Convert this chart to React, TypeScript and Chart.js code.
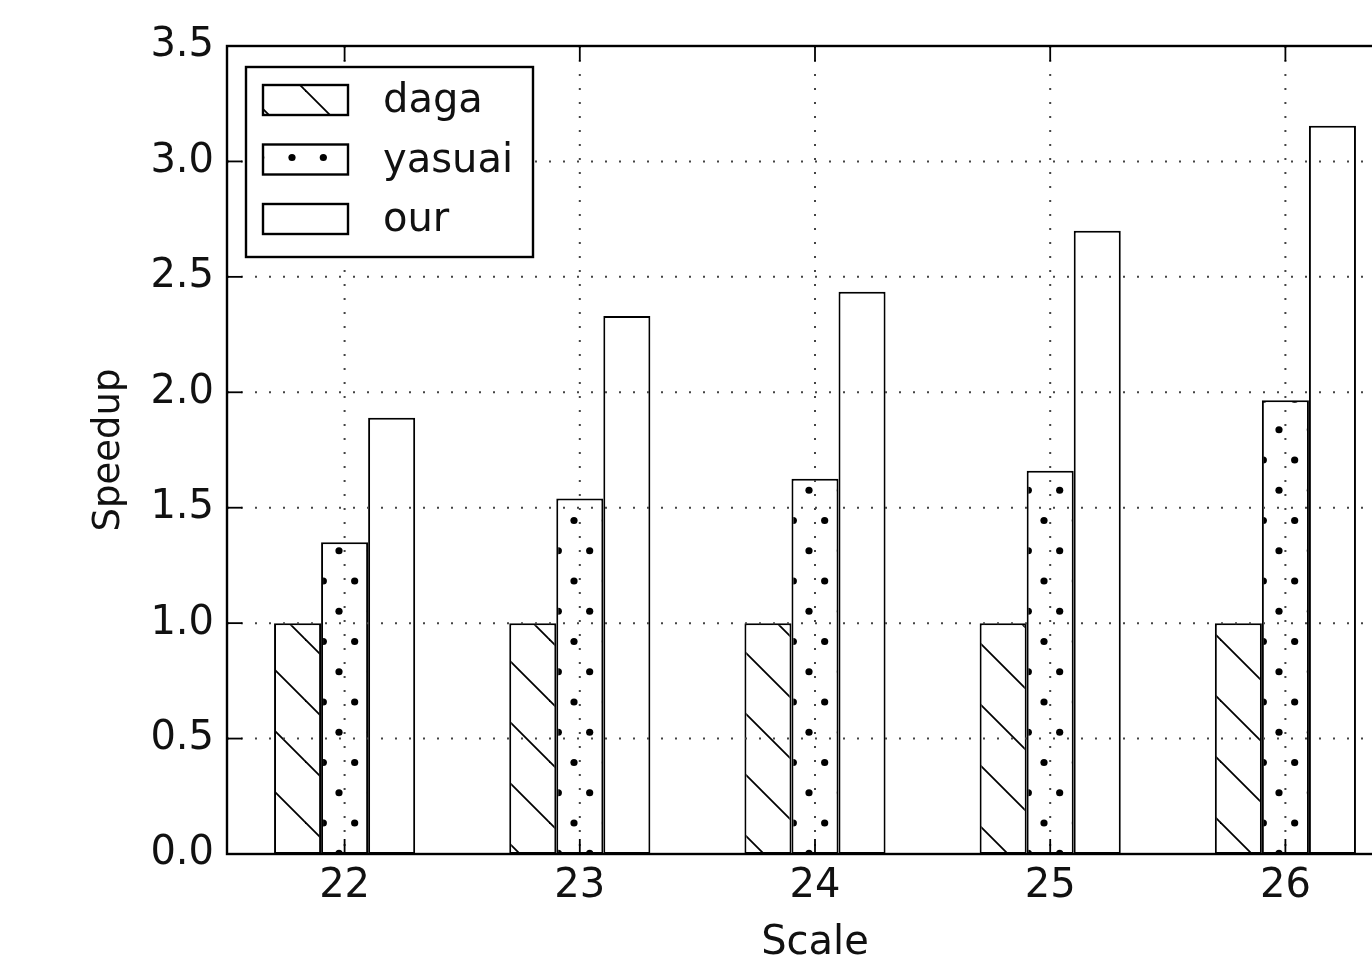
import React, { useEffect, useRef } from 'react';
import { Chart, registerables } from 'chart.js';

Chart.register(...registerables);

const categories = ['22', '23', '24', '25', '26'];
const seriesNames = ['daga', 'yasuai', 'our'];
const dagaValues = [1.0, 1.0, 1.0, 1.0, 1.0];
const yasuaiValues = [1.35, 1.54, 1.625, 1.66, 1.965];
const ourValues = [1.89, 2.33, 2.435, 2.7, 3.155];
const yTickLabels = ['0.0', '0.5', '1.0', '1.5', '2.0', '2.5', '3.0', '3.5'];
const xTitle = 'Scale';
const yTitle = 'Speedup';

const FONT = 'DejaVu Sans';
const CANVAS_W = 1450;
const CANVAS_H = 1000;

function makeHatch(): CanvasPattern | string {
  const c = document.createElement('canvas');
  c.width = 61;
  c.height = 61;
  const g = c.getContext('2d');
  if (!g) return '#fff';
  g.fillStyle = '#fff';
  g.fillRect(0, 0, 61, 61);
  g.strokeStyle = '#000';
  g.lineWidth = 1.8;
  for (let k = -2; k <= 1; k++) {
    const c0 = 29 + 61 * k;
    g.beginPath();
    g.moveTo(-5, -5 + c0);
    g.lineTo(66, 66 + c0);
    g.stroke();
  }
  return g.createPattern(c, 'repeat') || '#fff';
}

function makeDots(): CanvasPattern | string {
  const c = document.createElement('canvas');
  c.width = 94;
  c.height = 121;
  const g = c.getContext('2d');
  if (!g) return '#fff';
  g.fillStyle = '#fff';
  g.fillRect(0, 0, 94, 121);
  g.fillStyle = '#000';
  const p = 94 / 3;
  const dot = (x: number, y: number) => {
    g.beginPath();
    g.arc(x, y, 3.6, 0, Math.PI * 2);
    g.fill();
  };
  for (let i = 0; i < 3; i++) {
    dot(10 + p * i, 36.5);
    dot(10 + p * i, 97);
    dot(10 + p / 2 + p * i, 6.25);
    dot(10 + p / 2 + p * i, 66.75);
  }
  return g.createPattern(c, 'repeat') || '#fff';
}

const mplPlugin = {
  id: 'mplFrame',
  afterDatasetsDraw(chart: any) {
    const { ctx, chartArea: a, scales } = chart;
    const xs = scales.x;
    const ys = scales.y;
    const line = (x1: number, y1: number, x2: number, y2: number) => {
      ctx.beginPath();
      ctx.moveTo(x1, y1);
      ctx.lineTo(x2, y2);
      ctx.stroke();
    };
    ctx.save();
    // dotted grid drawn over the bars, as in classic matplotlib
    ctx.strokeStyle = '#444';
    ctx.lineWidth = 2;
    ctx.setLineDash([2, 12]);
    xs.ticks.forEach((_: any, i: number) => {
      const px = xs.getPixelForTick(i);
      line(px, a.top, px, a.bottom);
    });
    ys.ticks.forEach((t: any) => {
      const py = ys.getPixelForValue(t.value);
      if (py > a.top + 1 && py < a.bottom - 1) line(a.left, py, a.right, py);
    });
    ctx.setLineDash([]);
    // inward ticks
    ctx.strokeStyle = '#000';
    ctx.lineWidth = 1.8;
    const tl = 15;
    xs.ticks.forEach((_: any, i: number) => {
      const px = xs.getPixelForTick(i);
      line(px, a.bottom, px, a.bottom - tl);
      line(px, a.top, px, a.top + tl);
    });
    ys.ticks.forEach((t: any) => {
      const py = ys.getPixelForValue(t.value);
      line(a.left, py, a.left + tl, py);
      line(a.right, py, a.right - tl, py);
    });
    // frame
    ctx.lineWidth = 2.4;
    ctx.strokeRect(a.left, a.top, a.right - a.left, a.bottom - a.top);
    ctx.restore();
  },
  afterDraw(chart: any) {
    const { ctx, chartArea: a } = chart;
    const bx = a.left + 19;
    const by = a.top + 21;
    const bw = 287;
    const bh = 190;
    ctx.save();
    ctx.fillStyle = '#fff';
    ctx.fillRect(bx, by, bw, bh);
    ctx.strokeStyle = '#000';
    ctx.lineWidth = 2.4;
    ctx.strokeRect(bx, by, bw, bh);
    chart.data.datasets.forEach((ds: any, i: number) => {
      const cy = a.top + 54 + 59.5 * i;
      const sx = a.left + 36;
      const sw = 85;
      const sh = 30;
      ctx.fillStyle = ds.backgroundColor;
      ctx.fillRect(sx, cy - sh / 2, sw, sh);
      ctx.strokeStyle = '#000';
      ctx.lineWidth = 2.4;
      ctx.strokeRect(sx, cy - sh / 2, sw, sh);
      ctx.fillStyle = '#111';
      ctx.font = `40px "${FONT}"`;
      ctx.textAlign = 'left';
      ctx.textBaseline = 'middle';
      ctx.fillText(ds.label, a.left + 156, cy + 2);
    });
    ctx.restore();
  },
};

export default function App() {
  const canvasRef = useRef<HTMLCanvasElement | null>(null);

  useEffect(() => {
    const canvas = canvasRef.current;
    if (!canvas) return;
    const hatch = makeHatch();
    const dots = makeDots();
    const common = {
      borderColor: '#000',
      borderWidth: 2,
      borderSkipped: false as const,
    };
    const chart = new Chart(canvas, {
      type: 'bar',
      data: {
        labels: categories,
        datasets: [
          { label: seriesNames[0], data: dagaValues, backgroundColor: hatch as any, ...common },
          { label: seriesNames[1], data: yasuaiValues, backgroundColor: dots as any, ...common },
          { label: seriesNames[2], data: ourValues, backgroundColor: '#fff', ...common },
        ],
      },
      options: {
        animation: false,
        responsive: false,
        devicePixelRatio: 1,
        events: [],
        layout: { padding: { top: 46, right: 47, bottom: 0, left: 0 } },
        datasets: { bar: { categoryPercentage: 0.6, barPercentage: 1.0 } },
        plugins: { legend: { display: false }, tooltip: { enabled: false } },
        scales: {
          x: {
            type: 'category',
            offset: true,
            grid: { display: false, drawTicks: false },
            border: { display: false },
            ticks: {
              color: '#111',
              padding: 9,
              maxRotation: 0,
              autoSkip: false,
              font: { family: FONT, size: 40, lineHeight: 1.2 },
            },
            title: {
              display: true,
              text: xTitle,
              color: '#111',
              font: { family: FONT, size: 40, lineHeight: 1.2 },
              padding: { top: 0, bottom: 32 },
            },
            afterFit: (s: any) => {
              s.height = CANVAS_H - 854;
            },
          },
          y: {
            type: 'linear',
            min: 0,
            max: 3.5,
            grid: { display: false, drawTicks: false },
            border: { display: false },
            ticks: {
              stepSize: 0.5,
              color: '#111',
              padding: 13,
              font: { family: FONT, size: 40, lineHeight: 1.2 },
              callback: (v: any) => yTickLabels[Math.round(Number(v) / 0.5)] ?? '',
            },
            title: {
              display: true,
              text: yTitle,
              color: '#111',
              font: { family: FONT, size: 37, lineHeight: 1.2 },
              padding: { top: 87, bottom: 0 },
            },
            afterFit: (s: any) => {
              s.width = 227;
            },
          },
        },
      },
      plugins: [mplPlugin],
    });
    return () => chart.destroy();
  }, []);

  return (
    <div
      style={{
        position: 'fixed',
        left: 0,
        top: 0,
        width: 1372,
        height: 958,
        overflow: 'hidden',
        background: '#fff',
      }}
    >
      <canvas
        ref={canvasRef}
        width={CANVAS_W}
        height={CANVAS_H}
        style={{ position: 'absolute', left: 0, top: 0, width: CANVAS_W, height: CANVAS_H }}
      />
    </div>
  );
}
